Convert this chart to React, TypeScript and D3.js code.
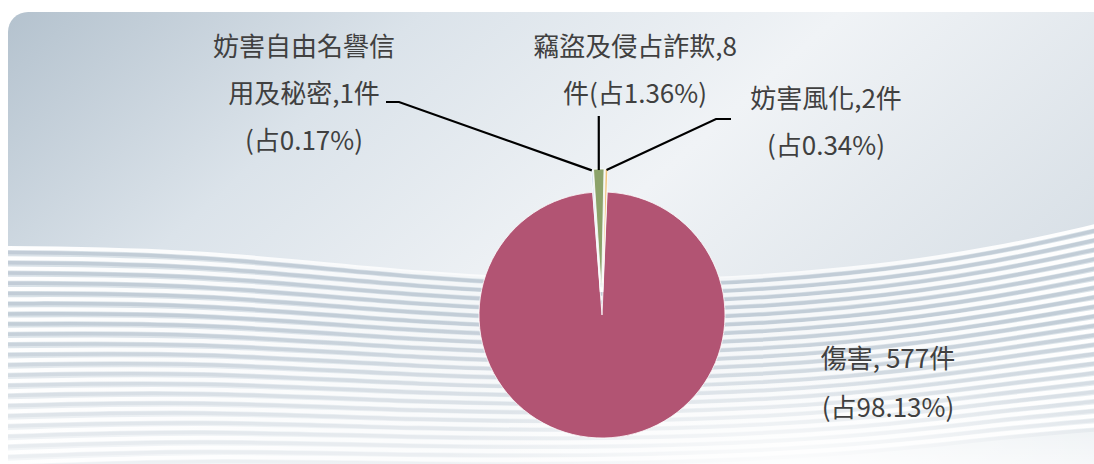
import React from "react";
import * as d3 from "d3";

// ---------- data ----------
const categories = ["傷害", "妨害自由名譽信用及秘密", "竊盜及侵占詐欺", "妨害風化"];
const counts = [577, 1, 8, 2];
const percentLabels = ["98.13%", "0.17%", "1.36%", "0.34%"];
const labelLines = [
  ["傷害, 577件", "(占98.13%)"],
  ["妨害自由名譽信", "用及秘密,1件", "(占0.17%)"],
  ["竊盜及侵占詐欺,8", "件(占1.36%)"],
  ["妨害風化,2件", "(占0.34%)"],
];
const sliceColors = ["#b25473", "#a9c6de", "#8ca36a", "#efc27c"];

// ---------- layout ----------
const W = 1094;
const H = 464;
const CX = 602;
const CY = 315;
const R = 123;
const EXPLODE = 23;
const START = (2.4 * Math.PI) / 180;

const labelLayout = [
  { x: 888, y: 356, gap: 49, leader: null as null | number[][], vertical: false },
  { x: 304, y: 44, gap: 47, leader: [[386, 102], [399, 102]], vertical: false },
  { x: 635, y: 44, gap: 47, leader: [[0, 116]], vertical: true },
  { x: 826, y: 96, gap: 47, leader: [[731, 119], [716, 119]], vertical: false },
];

function Background() {
  const N = 22;
  const line = d3
    .line<[number, number]>()
    .x((d) => d[0])
    .y((d) => d[1])
    .curve(d3.curveBasis);
  const xs = [0, 200, 420, 640, 860, 1000, 1100];
  const waves = d3.range(N).map((i) => {
    const t = i / (N - 1);
    const ys = [
      248 + t * 215,
      250 + t * 205,
      275 + t * 185,
      285 + t * 175,
      270 + t * 180,
      248 + t * 185,
      225 + t * 200,
    ];
    return xs.map((x, k) => [x, ys[k]] as [number, number]);
  });
  return (
    <g>
      <defs>
        <linearGradient id="bgGrad" x1="0" y1="0" x2="1" y2="0.5">
          <stop offset="0" stopColor="#b4c2ce" />
          <stop offset="0.3" stopColor="#dbe3ea" />
          <stop offset="0.6" stopColor="#f0f3f6" />
          <stop offset="1" stopColor="#d6dee5" />
        </linearGradient>
        <linearGradient id="waveFade" x1="0" y1="0" x2="1" y2="0">
          <stop offset="0" stopColor="#fff" stopOpacity="1" />
          <stop offset="0.45" stopColor="#fff" stopOpacity="0.7" />
          <stop offset="0.65" stopColor="#fff" stopOpacity="0.7" />
          <stop offset="1" stopColor="#fff" stopOpacity="1" />
        </linearGradient>
        <linearGradient id="fog" x1="0" y1="0" x2="0" y2="1">
          <stop offset="0" stopColor="#ffffff" stopOpacity="0" />
          <stop offset="1" stopColor="#ffffff" stopOpacity="0.75" />
        </linearGradient>
        <radialGradient id="fogR" cx="0.62" cy="1" r="0.45">
          <stop offset="0" stopColor="#ffffff" stopOpacity="0.85" />
          <stop offset="1" stopColor="#ffffff" stopOpacity="0" />
        </radialGradient>
        <clipPath id="cardClip">
          <rect x={8} y={12} width={W + 20} height={H + 30} rx={20} />
        </clipPath>
      </defs>
      <g clipPath="url(#cardClip)">
        <rect x={8} y={12} width={W + 20} height={H + 30} fill="url(#bgGrad)" />
        <path
          d={line(waves[0]) + `L1100,${H}L0,${H}Z`}
          fill="#d9e1e8"
          opacity={0.95}
        />
        {waves.map((w, i) => (
          <g key={i}>
            <path
              d={line(w.map((p) => [p[0], p[1] + 4.5] as [number, number])) || ""}
              fill="none"
              stroke="#aebcc9"
              strokeWidth={3.5}
              opacity={0.55}
            />
            <path
              d={line(w) || ""}
              fill="none"
              stroke="url(#waveFade)"
              strokeWidth={4}
            />
          </g>
        ))}
        <rect x={8} y={320} width={W} height={150} fill="url(#fog)" />
        <rect x={300} y={250} width={800} height={220} fill="url(#fogR)" />
      </g>
    </g>
  );
}

export default function App() {
  const pie = d3
    .pie<number>()
    .sort(null)
    .startAngle(START)
    .endAngle(START + 2 * Math.PI);
  const arcs = pie(counts);
  const arcGen = d3
    .arc<d3.PieArcDatum<number>>()
    .innerRadius(0)
    .outerRadius(R);

  const slices = arcs.map((a, i) => {
    const mid = (a.startAngle + a.endAngle) / 2;
    const off = i === 0 ? 0 : EXPLODE;
    const dx = off * Math.sin(mid);
    const dy = -off * Math.cos(mid);
    const edge = [
      CX + dx + (R - 1) * Math.sin(mid),
      CY + dy - (R - 1) * Math.cos(mid),
    ];
    return { a, i, dx, dy, edge };
  });

  const font = '"Noto Sans CJK TC", "Noto Sans", sans-serif';

  return (
    <svg
      width={W}
      height={H}
      viewBox={`0 0 ${W} ${H}`}
      style={{ position: "absolute", left: 0, top: 0, display: "block" }}
    >
      <rect x={0} y={0} width={W} height={H} fill="#ffffff" />
      <Background />
      <g>
        {slices.map((s) => (
          <path
            key={categories[s.i]}
            d={arcGen(s.a) || ""}
            transform={`translate(${CX + s.dx},${CY + s.dy})`}
            fill={sliceColors[s.i]}
            stroke="#ffffff"
            strokeWidth={0.8}
          >
            <title>{`${categories[s.i]}: ${counts[s.i]}件 (${percentLabels[s.i]})`}</title>
          </path>
        ))}
      </g>
      <g>
        {slices.map((s) => {
          const L = labelLayout[s.i];
          if (!L.leader) return null;
          const pts = L.leader.map((p) =>
            L.vertical ? [s.edge[0], p[1]] : p
          ) as [number, number][];
          const all: [number, number][] = [...pts, [s.edge[0], s.edge[1]]];
          return (
            <path
              key={"l" + s.i}
              d={d3.line()(all) || ""}
              fill="none"
              stroke="#000000"
              strokeWidth={2.2}
            />
          );
        })}
      </g>
      <g fontFamily={font} fontSize={26} fill="#404040" textAnchor="middle">
        {labelLines.map((lines, i) =>
          lines.map((t, j) => (
            <text
              key={i + "-" + j}
              x={labelLayout[i].x}
              y={labelLayout[i].y + j * labelLayout[i].gap}
              dominantBaseline="central"
            >
              {t}
            </text>
          ))
        )}
      </g>
    </svg>
  );
}
